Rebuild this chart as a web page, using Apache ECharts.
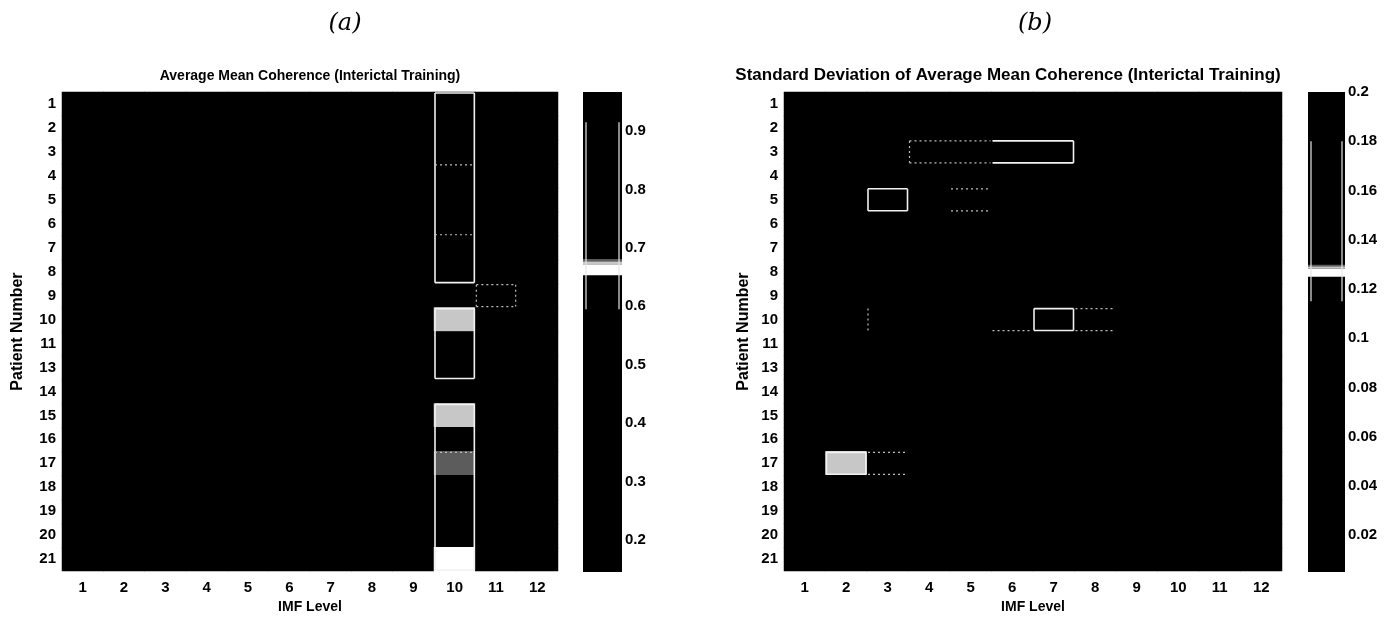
<!DOCTYPE html>
<html>
<head>
<meta charset="utf-8">
<title>Average Mean Coherence (Interictal Training)</title>
<script src="https://cdn.jsdelivr.net/npm/echarts@6/dist/echarts.min.js"></script>
<style>
  html, body { margin: 0; padding: 0; background: #fff; }
  #chart { width: 1389px; height: 619px; }
</style>
</head>
<body>
<div id="chart"></div>
<script>
// IMF levels (columns) and patient numbers (rows; patient 12 is not in the set)
const imfLevels = ['1', '2', '3', '4', '5', '6', '7', '8', '9', '10', '11', '12'];
const patients = ['1', '2', '3', '4', '5', '6', '7', '8', '9', '10', '11',
                  '13', '14', '15', '16', '17', '18', '19', '20', '21'];

// Average mean coherence, one row per patient, one column per IMF level
const meanCoherence = [
  [0.21, 0.24, 0.27, 0.31, 0.33, 0.36, 0.41, 0.44, 0.50, 0.967, 0.58, 0.52],
  [0.19, 0.22, 0.26, 0.28, 0.31, 0.35, 0.39, 0.43, 0.49, 0.95, 0.57, 0.51],
  [0.20, 0.23, 0.26, 0.29, 0.32, 0.36, 0.38, 0.42, 0.48, 0.93, 0.56, 0.50],
  [0.18, 0.21, 0.24, 0.27, 0.31, 0.34, 0.37, 0.41, 0.47, 0.87, 0.55, 0.49],
  [0.17, 0.20, 0.23, 0.26, 0.29, 0.33, 0.37, 0.41, 0.46, 0.85, 0.54, 0.48],
  [0.19, 0.22, 0.25, 0.28, 0.31, 0.34, 0.38, 0.42, 0.47, 0.84, 0.55, 0.49],
  [0.18, 0.21, 0.24, 0.27, 0.30, 0.33, 0.36, 0.40, 0.45, 0.77, 0.53, 0.47],
  [0.17, 0.20, 0.23, 0.26, 0.29, 0.32, 0.36, 0.40, 0.45, 0.75, 0.54, 0.46],
  [0.16, 0.19, 0.22, 0.25, 0.28, 0.31, 0.35, 0.39, 0.44, 0.61, 0.63, 0.45],
  [0.18, 0.21, 0.24, 0.27, 0.30, 0.33, 0.37, 0.41, 0.46, 0.675, 0.56, 0.48],
  [0.17, 0.20, 0.23, 0.26, 0.29, 0.32, 0.36, 0.40, 0.45, 0.63, 0.55, 0.47],
  [0.16, 0.19, 0.22, 0.25, 0.28, 0.31, 0.35, 0.39, 0.44, 0.62, 0.54, 0.46],
  [0.145, 0.18, 0.21, 0.24, 0.27, 0.30, 0.34, 0.38, 0.43, 0.55, 0.52, 0.45],
  [0.17, 0.20, 0.23, 0.26, 0.29, 0.32, 0.36, 0.40, 0.45, 0.674, 0.55, 0.47],
  [0.16, 0.19, 0.22, 0.25, 0.28, 0.31, 0.35, 0.39, 0.44, 0.64, 0.54, 0.46],
  [0.17, 0.20, 0.23, 0.26, 0.29, 0.32, 0.36, 0.40, 0.45, 0.679, 0.56, 0.48],
  [0.16, 0.19, 0.22, 0.25, 0.28, 0.31, 0.35, 0.39, 0.44, 0.63, 0.54, 0.46],
  [0.15, 0.18, 0.21, 0.24, 0.27, 0.30, 0.34, 0.38, 0.43, 0.62, 0.53, 0.45],
  [0.16, 0.19, 0.22, 0.25, 0.28, 0.31, 0.35, 0.39, 0.44, 0.64, 0.54, 0.46],
  [0.17, 0.20, 0.23, 0.26, 0.29, 0.32, 0.36, 0.40, 0.45, 0.664, 0.55, 0.47]
];

// Standard deviation of the average mean coherence
const stdCoherence = [
  [0.021, 0.034, 0.028, 0.045, 0.039, 0.052, 0.047, 0.036, 0.031, 0.026, 0.019, 0.015],
  [0.018, 0.029, 0.041, 0.055, 0.048, 0.061, 0.058, 0.044, 0.035, 0.024, 0.017, 0.012],
  [0.025, 0.038, 0.052, 0.092, 0.101, 0.152, 0.163, 0.049, 0.037, 0.028, 0.020, 0.014],
  [0.016, 0.027, 0.046, 0.058, 0.051, 0.063, 0.055, 0.042, 0.033, 0.022, 0.016, 0.011],
  [0.022, 0.041, 0.171, 0.066, 0.104, 0.059, 0.052, 0.040, 0.032, 0.025, 0.018, 0.013],
  [0.015, 0.026, 0.043, 0.049, 0.044, 0.054, 0.050, 0.038, 0.030, 0.021, 0.015, 0.010],
  [0.019, 0.031, 0.048, 0.047, 0.042, 0.051, 0.046, 0.037, 0.029, 0.023, 0.016, 0.011],
  [0.017, 0.028, 0.076, 0.045, 0.040, 0.070, 0.044, 0.035, 0.028, 0.020, 0.014, 0.009],
  [0.014, 0.024, 0.039, 0.043, 0.038, 0.047, 0.062, 0.060, 0.027, 0.019, 0.013, 0.008],
  [0.020, 0.036, 0.081, 0.056, 0.049, 0.085, 0.200, 0.112, 0.034, 0.024, 0.017, 0.012],
  [0.013, 0.022, 0.037, 0.041, 0.036, 0.045, 0.043, 0.033, 0.025, 0.018, 0.012, 0.007],
  [0.012, 0.021, 0.035, 0.040, 0.035, 0.044, 0.041, 0.031, 0.024, 0.017, 0.011, 0.006],
  [0.011, 0.020, 0.033, 0.038, 0.033, 0.042, 0.039, 0.030, 0.023, 0.016, 0.010, 0.005],
  [0.013, 0.023, 0.036, 0.039, 0.034, 0.043, 0.040, 0.031, 0.024, 0.017, 0.011, 0.006],
  [0.016, 0.045, 0.058, 0.041, 0.036, 0.045, 0.042, 0.032, 0.025, 0.018, 0.012, 0.007],
  [0.024, 0.1287, 0.094, 0.044, 0.038, 0.046, 0.043, 0.033, 0.026, 0.019, 0.013, 0.008],
  [0.015, 0.047, 0.055, 0.040, 0.035, 0.044, 0.041, 0.031, 0.024, 0.017, 0.011, 0.006],
  [0.012, 0.022, 0.034, 0.038, 0.033, 0.042, 0.039, 0.030, 0.023, 0.016, 0.010, 0.006],
  [0.011, 0.021, 0.033, 0.037, 0.032, 0.041, 0.038, 0.029, 0.022, 0.015, 0.010, 0.005],
  [0.010, 0.020, 0.032, 0.036, 0.031, 0.040, 0.037, 0.028, 0.021, 0.015, 0.009, 0.005]
];

// Colour-bar tick labels
const meanTicks = [0.2, 0.3, 0.4, 0.5, 0.6, 0.7, 0.8, 0.9];
const stdTicks = [0.02, 0.04, 0.06, 0.08, 0.1, 0.12, 0.14, 0.16, 0.18, 0.2];

// Value bands that print light on the black-and-white colour map:
// [from, to, shade] where shade 1 is solid white
const meanBands = [[0.653, 0.672, 1], [0.672, 0.677, 0.78], [0.677, 0.681, 0.36]];
const stdBands = [[0.1249, 0.1282, 1], [0.1282, 0.1292, 0.78], [0.1292, 0.1298, 0.36]];

// Contour outlines around groups of cells: IMF range, patient range, sides drawn
const meanContours = [
  { imf: [10, 10], pat: ['1', '8'], sides: 'tblr' },
  { imf: [10, 10], pat: ['4', '6'], sides: 'tb', faint: true },
  { imf: [11, 11], pat: ['9', '9'], sides: 'tblr', faint: true },
  { imf: [10, 10], pat: ['10', '13'], sides: 'tblr' },
  { imf: [10, 10], pat: ['15', '21'], sides: 'tblr' },
  { imf: [10, 10], pat: ['17', '17'], sides: 't', faint: true }
];
const stdContours = [
  { imf: [4, 5], pat: ['3', '3'], sides: 'tbl', faint: true },
  { imf: [6, 7], pat: ['3', '3'], sides: 'tbr' },
  { imf: [3, 3], pat: ['5', '5'], sides: 'tblr' },
  { imf: [5, 5], pat: ['5', '5'], sides: 'tb', faint: true },
  { imf: [7, 7], pat: ['10', '10'], sides: 'tblr' },
  { imf: [6, 6], pat: ['10', '10'], sides: 'b', faint: true },
  { imf: [8, 8], pat: ['10', '10'], sides: 'tb', faint: true },
  { imf: [3, 3], pat: ['10', '10'], sides: 'l', faint: true },
  { imf: [2, 2], pat: ['17', '17'], sides: 'tblr' },
  { imf: [3, 3], pat: ['17', '17'], sides: 'tb', faint: true }
];

// Contour running down the inside of each colour bar: [from, to]
const meanBarContour = [0.595, 0.915];
const stdBarContour = [0.115, 0.18];

// ---------------------------------------------------------------------------

function toCells(matrix) {
  const out = [];
  matrix.forEach((row, r) => row.forEach((v, c) => out.push([c, r, v])));
  return out;
}
function range(matrix) {
  const flat = matrix.flat();
  return [Math.min.apply(null, flat), Math.max.apply(null, flat)];
}
function shadeOf(v, bands) {
  for (const b of bands) if (v >= b[0] && v <= b[1]) return b[2];
  return 0;
}
function grey(shade) {
  const g = Math.round(255 * shade);
  return 'rgb(' + g + ',' + g + ',' + g + ')';
}
// Colour stops for the continuous map: black outside the light bands
function colourStops(lo, hi, bands) {
  const n = 1200, stops = [];
  for (let i = 0; i < n; i++) stops.push(grey(shadeOf(lo + (hi - lo) * i / (n - 1), bands)));
  return stops;
}

function contourRenderer(list) {
  return function (params, api) {
    const o = list[params.dataIndex];
    const size = api.size([1, 1]);
    const a = api.coord([o.imf[0] - 1, patients.indexOf(o.pat[0])]);
    const b = api.coord([o.imf[1] - 1, patients.indexOf(o.pat[1])]);
    const x0 = Math.min(a[0], b[0]) - size[0] / 2 + 1;
    const x1 = Math.max(a[0], b[0]) + size[0] / 2 - 1;
    const y0 = Math.min(a[1], b[1]) - size[1] / 2 + 1;
    const y1 = Math.max(a[1], b[1]) + size[1] / 2 - 1;
    const style = o.faint
      ? { stroke: '#bdbdbd', lineWidth: 1.2, lineDash: [2, 3], fill: null }
      : { stroke: '#f2f2f2', lineWidth: 1.6, fill: null };
    const seg = { t: [x0, y0, x1, y0], b: [x0, y1, x1, y1], l: [x0, y0, x0, y1], r: [x1, y0, x1, y1] };
    return {
      type: 'group',
      children: o.sides.split('').map(s => ({
        type: 'line',
        shape: { x1: seg[s][0], y1: seg[s][1], x2: seg[s][2], y2: seg[s][3] },
        style: style
      }))
    };
  };
}
// Colour bar: light bands drawn over the black bar, on the bar's own value scale
function bandRenderer(params, api) {
  const top = api.coord([0, api.value(1)]);
  const bot = api.coord([1, api.value(0)]);
  return {
    type: 'rect',
    shape: { x: top[0], y: top[1], width: bot[0] - top[0], height: bot[1] - top[1] },
    style: { fill: grey(api.value(2)) }
  };
}
function barContourRenderer(params, api) {
  const top = api.coord([0, api.value(1)]);
  const bot = api.coord([0, api.value(0)]);
  const right = api.coord([1, api.value(1)]);
  const style = { stroke: '#e6e6e6', lineWidth: 1.2 };
  return {
    type: 'group',
    children: [
      { type: 'line', shape: { x1: top[0] + 3, y1: top[1], x2: bot[0] + 3, y2: bot[1] }, style: style },
      { type: 'line', shape: { x1: right[0] - 3, y1: top[1], x2: right[0] - 3, y2: bot[1] }, style: style }
    ]
  };
}

const meanRange = range(meanCoherence);
const stdRange = range(stdCoherence);

const FONT = 'Liberation Sans, Arial, Helvetica, sans-serif';
const tickLabel = { color: '#000', fontFamily: FONT, fontSize: 15, fontWeight: 'bold' };
const nameText = { color: '#000', fontFamily: FONT, fontSize: 14, fontWeight: 'bold' };
const panelGrid = { show: true, backgroundColor: '#000', borderWidth: 0 };

const grids = [
  Object.assign({ left: 62, top: 92, width: 496, height: 480 }, panelGrid),
  Object.assign({ left: 583, top: 92, width: 39, height: 480 }, panelGrid),
  Object.assign({ left: 784, top: 92, width: 498, height: 480 }, panelGrid),
  Object.assign({ left: 1308, top: 92, width: 37, height: 480 }, panelGrid)
];

function catX(grid) {
  return {
    type: 'category', gridIndex: grid, data: imfLevels,
    axisLine: { show: false }, axisTick: { show: false }, splitLine: { show: false },
    axisLabel: Object.assign({ margin: 9 }, tickLabel),
    name: 'IMF Level', nameLocation: 'middle', nameGap: 27, nameTextStyle: nameText
  };
}
function catY(grid, gap) {
  return {
    type: 'category', gridIndex: grid, data: patients, inverse: true,
    axisLine: { show: false }, axisTick: { show: false }, splitLine: { show: false },
    axisLabel: Object.assign({ margin: 6 }, tickLabel),
    name: 'Patient Number', nameLocation: 'middle', nameGap: gap, nameRotate: 90,
    nameTextStyle: Object.assign({}, nameText, { fontSize: 16 })
  };
}
function barX(grid) {
  return { type: 'value', gridIndex: grid, min: 0, max: 1, show: false };
}
function barY(grid, r, ticks) {
  return {
    type: 'value', gridIndex: grid, min: r[0], max: r[1], position: 'right',
    axisLine: { show: false }, axisTick: { show: false }, splitLine: { show: false },
    axisLabel: Object.assign({ margin: 3, customValues: ticks }, tickLabel)
  };
}
const panelLetter = { fontFamily: 'DejaVu Serif, serif', fontStyle: 'italic', fontWeight: 'normal', fontSize: 24, color: '#000' };

const option = {
  backgroundColor: '#fff',
  animation: false,
  title: [
    { text: '(a)', left: 340, top: 7, textAlign: 'center', textStyle: panelLetter },
    { text: '(b)', left: 1030, top: 7, textAlign: 'center', textStyle: panelLetter },
    { text: 'Average Mean Coherence (Interictal Training)', left: 305, top: 64, textAlign: 'center',
      textStyle: { fontFamily: FONT, fontSize: 14, fontWeight: 'bold', color: '#000' } },
    { text: 'Standard Deviation of Average Mean Coherence (Interictal Training)', left: 1003, top: 62, textAlign: 'center',
      textStyle: { fontFamily: FONT, fontSize: 17, fontWeight: 'bold', color: '#000' } }
  ],
  grid: grids,
  xAxis: [catX(0), barX(1), catX(2), barX(3)],
  yAxis: [catY(0, 36), barY(1, meanRange, meanTicks), catY(2, 32), barY(3, stdRange, stdTicks)],
  visualMap: [
    {
      type: 'continuous', show: false, seriesIndex: 0, min: meanRange[0], max: meanRange[1],
      inRange: { color: colourStops(meanRange[0], meanRange[1], meanBands) }
    },
    {
      type: 'continuous', show: false, seriesIndex: 1, min: stdRange[0], max: stdRange[1],
      inRange: { color: colourStops(stdRange[0], stdRange[1], stdBands) }
    }
  ],
  series: [
    { type: 'heatmap', xAxisIndex: 0, yAxisIndex: 0, data: toCells(meanCoherence), itemStyle: { borderWidth: 0 } },
    { type: 'heatmap', xAxisIndex: 2, yAxisIndex: 2, data: toCells(stdCoherence), itemStyle: { borderWidth: 0 } },
    { type: 'custom', xAxisIndex: 0, yAxisIndex: 0, z: 5, silent: true,
      data: meanContours.map(o => [o.imf[0] - 1, patients.indexOf(o.pat[0])]),
      renderItem: contourRenderer(meanContours) },
    { type: 'custom', xAxisIndex: 2, yAxisIndex: 2, z: 5, silent: true,
      data: stdContours.map(o => [o.imf[0] - 1, patients.indexOf(o.pat[0])]),
      renderItem: contourRenderer(stdContours) },
    { type: 'custom', xAxisIndex: 1, yAxisIndex: 1, z: 3, silent: true,
      data: meanBands, renderItem: bandRenderer },
    { type: 'custom', xAxisIndex: 3, yAxisIndex: 3, z: 3, silent: true,
      data: stdBands, renderItem: bandRenderer },
    { type: 'custom', xAxisIndex: 1, yAxisIndex: 1, z: 5, silent: true,
      data: [meanBarContour], renderItem: barContourRenderer },
    { type: 'custom', xAxisIndex: 3, yAxisIndex: 3, z: 5, silent: true,
      data: [stdBarContour], renderItem: barContourRenderer }
  ]
};

const chart = echarts.init(document.getElementById('chart'), null, { renderer: 'canvas' });
chart.setOption(option);
</script>
</body>
</html>
